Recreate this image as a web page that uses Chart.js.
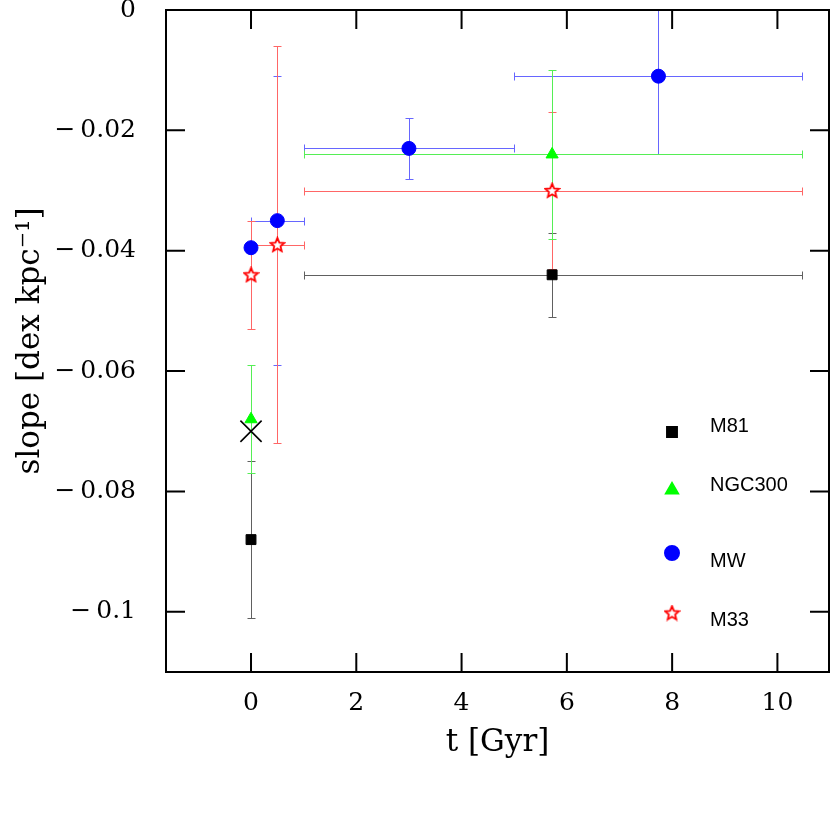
<!DOCTYPE html>
<html>
<head>
<meta charset="utf-8">
<script src="https://cdn.jsdelivr.net/npm/chart.js@4"></script>
<style>html,body{margin:0;background:#fff}</style>
</head>
<body>
<canvas id="c" width="831" height="840"></canvas>
<script>
// t [Gyr], slope, vertical error, horizontal range (lo/hi) per galaxy
const m81T = [0, 5.72];
const m81Slope = [-0.088, -0.044];
const m81Err = [0.013, 0.007];
const m81Lo = [null, 1.0];
const m81Hi = [null, 10.46];

const ngcT = [0, 5.72];
const ngcSlope = [-0.068, -0.024];
const ngcErr = [0.009, 0.014];
const ngcLo = [null, 1.0];
const ngcHi = [null, 10.46];

const mwT = [0, 0.5, 3, 7.74];
const mwSlope = [-0.0395, -0.035, -0.023, -0.011];
const mwErr = [null, 0.024, 0.005, 0.013];
const mwLo = [null, 0, 1, 5];
const mwHi = [null, 1, 5, 10.46];

const m33T = [0, 0.5, 5.72];
const m33Slope = [-0.044, -0.039, -0.030];
const m33Err = [0.009, 0.033, 0.013];
const m33Lo = [null, 0, 1];
const m33Hi = [null, 1, 10.46];

const crossT = [0];
const crossSlope = [-0.070];

const xTicks = [0, 2, 4, 6, 8, 10];
const yTicks = [0, -0.02, -0.04, -0.06, -0.08, -0.1];

function starImage(size, color) {
    const c = document.createElement('canvas'); c.width = c.height = size;
    const g = c.getContext('2d');
    const cx = size / 2, cy = size / 2 + 0.5, r = size / 2 - 1.2, ri = r * 0.45;
    g.beginPath();
    for (let i = 0; i < 10; i++) {
        const a = -Math.PI / 2 + i * Math.PI / 5, rr = i % 2 ? ri : r;
        g.lineTo(cx + rr * Math.cos(a), cy + rr * Math.sin(a));
    }
    g.closePath(); g.fillStyle = '#fff'; g.fill();
    g.strokeStyle = color; g.lineWidth = 1.8; g.stroke();
    return c;
}
const star = starImage(17, '#ff0000');

const pts = (xs, ys) => xs.map((x, i) => ({ x, y: ys[i] }));
const series = [
    { label: 'M81', t: m81T, s: m81Slope, e: m81Err, lo: m81Lo, hi: m81Hi, bar: '#606060', color: '#000000', style: 'rect', r: 7 },
    { label: 'NGC300', t: ngcT, s: ngcSlope, e: ngcErr, lo: ngcLo, hi: ngcHi, bar: '#55ee55', color: '#00ff00', style: 'triangle', r: 7 },
    { label: 'MW', t: mwT, s: mwSlope, e: mwErr, lo: mwLo, hi: mwHi, bar: '#6666ff', color: '#0000ff', style: 'circle', r: 7 },
    { label: 'M33', t: m33T, s: m33Slope, e: m33Err, lo: m33Lo, hi: m33Hi, bar: '#ff6666', color: '#ff0000', style: star, r: 8 },
];
const barOrder = [0, 2, 3, 1];

const errorBars = {
    id: 'errorBars',
    beforeDatasetsDraw(chart) {
        const { ctx, chartArea: a, scales: { x, y } } = chart;
        const px0 = v => Math.round(x.getPixelForValue(v)) + 0.5;
        const py0 = v => Math.round(y.getPixelForValue(v)) + 0.5;
        ctx.save();
        ctx.beginPath(); ctx.rect(a.left, a.top, a.right - a.left, a.bottom - a.top); ctx.clip();
        ctx.lineWidth = 1;
        barOrder.forEach(k => {
            const sr = series[k];
            ctx.strokeStyle = sr.bar;
            sr.t.forEach((t, i) => {
                const px = px0(t), py = py0(sr.s[i]);
                ctx.beginPath();
                if (sr.e[i] != null) {
                    const y1 = py0(sr.s[i] + sr.e[i]), y2 = py0(sr.s[i] - sr.e[i]);
                    ctx.moveTo(px, y1); ctx.lineTo(px, y2);
                    ctx.moveTo(px - 4, y1); ctx.lineTo(px + 4, y1);
                    ctx.moveTo(px - 4, y2); ctx.lineTo(px + 4, y2);
                }
                if (sr.lo[i] != null) {
                    const x1 = px0(sr.lo[i]), x2 = px0(sr.hi[i]);
                    ctx.moveTo(x1, py); ctx.lineTo(x2, py);
                    ctx.moveTo(x1, py - 4); ctx.lineTo(x1, py + 4);
                    ctx.moveTo(x2, py - 4); ctx.lineTo(x2, py + 4);
                }
                ctx.stroke();
            });
        });
        ctx.restore();
    }
};

const frame = {
    id: 'frame',
    afterDatasetsDraw(chart) {
        const { ctx, chartArea: a, scales: { x, y } } = chart;
        ctx.save();
        ctx.strokeStyle = '#000'; ctx.lineWidth = 2;
        ctx.strokeRect(a.left, a.top, a.right - a.left, a.bottom - a.top);
        ctx.beginPath();
        x.ticks.forEach(t => {
            const px = x.getPixelForValue(t.value);
            ctx.moveTo(px, a.bottom); ctx.lineTo(px, a.bottom - 19);
            ctx.moveTo(px, a.top); ctx.lineTo(px, a.top + 19);
        });
        y.ticks.forEach(t => {
            const py = y.getPixelForValue(t.value);
            ctx.moveTo(a.left, py); ctx.lineTo(a.left + 19, py);
            ctx.moveTo(a.right, py); ctx.lineTo(a.right - 19, py);
        });
        ctx.stroke();
        // legend
        const rows = [[422, 416], [480, 475], [543, 551], [603, 610]];
        ctx.font = '20px "Liberation Sans", Arial, sans-serif';
        ctx.textBaseline = 'middle'; ctx.textAlign = 'left';
        series.forEach((sr, i) => {
            const mx = a.right - 157, my = a.top + rows[i][0];
            ctx.fillStyle = sr.color; ctx.strokeStyle = sr.color;
            Chart.helpers.drawPoint(ctx, { pointStyle: sr.style, radius: sr.r, rotation: 0, borderWidth: 1 }, mx, my);
            ctx.fillStyle = '#000';
            ctx.fillText(sr.label, a.right - 119, a.top + rows[i][1]);
        });
        ctx.restore();
    }
};

const datasets = series.map(sr => ({
    label: sr.label,
    data: pts(sr.t, sr.s),
    pointStyle: sr.style,
    pointRadius: sr.r,
    pointHoverRadius: sr.r,
    backgroundColor: sr.color,
    borderColor: sr.color,
    borderWidth: 1,
}));
datasets.push({
    label: 'x',
    data: pts(crossT, crossSlope),
    pointStyle: 'crossRot',
    pointRadius: 15,
    borderColor: '#000',
    borderWidth: 1.6,
});

const minus = v => v === 0 ? '0' : (v < 0 ? '\u2212\u2009' : '') + String(Math.abs(+v.toFixed(3)));
const tickFont = { family: '"DejaVu Serif", serif', size: 25 };
const titleFont = { family: '"DejaVu Serif", serif', size: 31 };

new Chart(document.getElementById('c'), {
    type: 'scatter',
    data: { datasets },
    plugins: [errorBars, frame],
    options: {
        responsive: false,
        animation: false,
        events: [],
        layout: { autoPadding: false, padding: { top: 10, right: 2, left: 0, bottom: 0 } },
        plugins: { legend: { display: false }, tooltip: { enabled: false } },
        scales: {
            x: {
                type: 'linear', min: -1.615, max: 10.98,
                afterBuildTicks: s => { s.ticks = xTicks.map(value => ({ value })); },
                afterFit: s => { s.height = 168; s.paddingLeft = s.paddingRight = 0; },
                grid: { display: false }, border: { display: false },
                ticks: { color: '#000', font: tickFont, padding: 8, maxRotation: 0, callback: v => String(v) },
                title: { display: true, text: 't [Gyr]', color: '#000', font: titleFont, padding: { bottom: 78 } },
            },
            y: {
                type: 'linear', min: -0.11, max: 0,
                afterBuildTicks: s => { s.ticks = yTicks.map(value => ({ value })); },
                afterFit: s => { s.width = 166; s.paddingTop = s.paddingBottom = 0; },
                grid: { display: false }, border: { display: false },
                ticks: { color: '#000', font: tickFont, padding: 22, callback: v => minus(v) },
                title: { display: true, text: 'slope [dex kpc\u207B\u00B9]', color: '#000', font: titleFont, padding: { top: 12 } },
            },
        },
    },
});
</script>
</body>
</html>
